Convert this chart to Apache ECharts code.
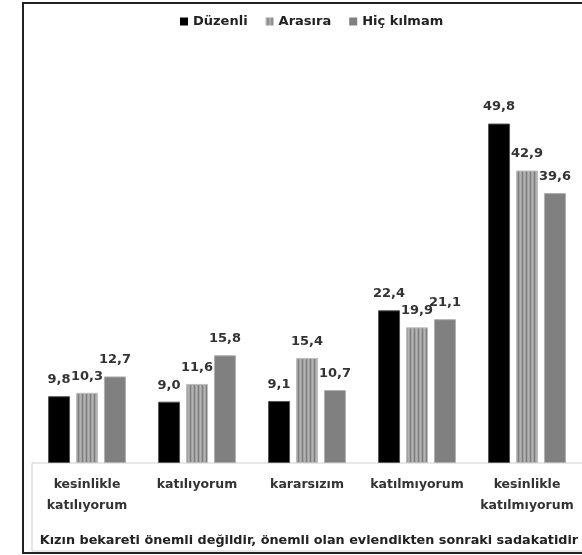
<!DOCTYPE html>
<html><head><meta charset="utf-8">
<script src="https://cdn.jsdelivr.net/npm/echarts@6/dist/echarts.min.js"></script>
<style>html,body{margin:0;padding:0;background:#fff}#c{width:582px;height:555px}</style>
</head><body><div id="c"></div>
<script>
const categories = ['kesinlikle\nkatılıyorum', 'katılıyorum', 'kararsızım', 'katılmıyorum', 'kesinlikle\nkatılmıyorum'];
const seriesNames = ['Düzenli', 'Arasıra', 'Hiç kılmam'];
const duzenli = [9.8, 9.0, 9.1, 22.4, 49.8];
const arasira = [10.3, 11.6, 15.4, 19.9, 42.9];
const hicKilmam = [12.7, 15.8, 10.7, 21.1, 39.6];
const xTitle = 'Kızın bekareti önemli değildir, önemli olan evlendikten sonraki sadakatidir';

const FONT = 'DejaVu Sans';
const cv = document.createElement('canvas');
cv.width = 4; cv.height = 1;
const cx = cv.getContext('2d');
const stripe = ['#b4b4b4', '#a2a2a2', '#7e7e7e', '#a2a2a2'];
stripe.forEach((c, i) => { cx.fillStyle = c; cx.fillRect(i, 0, 1, 1); });

const lbl = {
  show: true, position: 'top', distance: 10,
  fontFamily: FONT, fontWeight: 'bold', fontSize: 13, color: '#333',
  formatter: p => p.value.toFixed(1).replace('.', ',')
};

const chart = echarts.init(document.getElementById('c'), null, {renderer: 'canvas'});
chart.setOption({
  animation: false,
  backgroundColor: '#fff',
  legend: {
    top: 15, left: 180, itemWidth: 8, itemHeight: 8, itemGap: 18,
    icon: 'rect', padding: 0,
    itemStyle: {borderWidth: 0},
    textStyle: {fontFamily: FONT, fontWeight: 'bold', fontSize: 13, color: '#222'},
    data: seriesNames
  },
  grid: {left: 32, right: 0, top: 54, bottom: 92},
  xAxis: {
    type: 'category', data: categories,
    axisLine: {show: false}, axisTick: {show: false},
    axisLabel: {margin: 11.5, lineHeight: 21, fontFamily: FONT, fontWeight: 'bold', fontSize: 12.5, color: '#333', interval: 0}
  },
  yAxis: {type: 'value', min: 0, max: 60, show: false},
  graphic: [
    {type: 'rect', z: 0, shape: {x: 32, y: 463, width: 560, height: 88}, style: {fill: '#fff', stroke: '#cfcfcf', lineWidth: 1}},
    {type: 'rect', z: 0, shape: {x: 23, y: 3, width: 600, height: 550}, style: {fill: 'none', stroke: '#222', lineWidth: 2}},
    {type: 'text', z: 10, x: 309, y: 541, style: {text: xTitle, fontFamily: FONT, fontWeight: 'bold', fontSize: 12.8, fill: '#222', align: 'center', verticalAlign: 'middle'}}
  ],
  series: [
    {name: seriesNames[0], type: 'bar', data: duzenli, barWidth: 22, barGap: '27%',
     itemStyle: {color: '#000', borderColor: '#555', borderWidth: 1}, label: lbl},
    {name: seriesNames[1], type: 'bar', data: arasira, barWidth: 22, barGap: '27%',
     itemStyle: {color: {image: cv, repeat: 'repeat'}, borderColor: '#bdbdbd', borderWidth: 1}, label: lbl},
    {name: seriesNames[2], type: 'bar', data: hicKilmam, barWidth: 22, barGap: '27%',
     itemStyle: {color: '#808080', borderColor: '#b0b0b0', borderWidth: 1}, label: lbl}
  ]
});
</script></body></html>
